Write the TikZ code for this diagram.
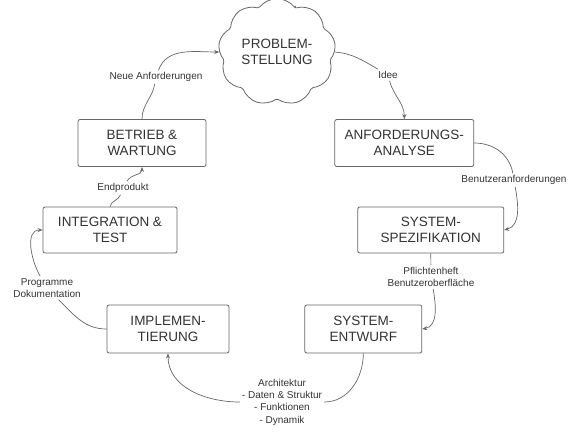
\documentclass[tikz,border=0pt]{standalone}
\usepackage{fontspec}
\setmainfont{Liberation Sans}
\usepackage{tikz}
\usetikzlibrary{arrows.meta,positioning,shapes.symbols}
\definecolor{linegray}{HTML}{666666}
\definecolor{textgray}{HTML}{333333}
\tikzset{
  stagebox/.style={
    draw=linegray,
    rounded corners=2pt,
    line width=0.8pt,
    fill=white,
    align=center,
    text=textgray,
    inner sep=2pt,
    font=\fontsize{13.5}{16.5}\selectfont
  },
  cloudbox/.style={stagebox, cloud, cloud puffs=9, cloud puff arc=115,
    aspect=1.15, minimum width=110pt, minimum height=94pt},
  flowlabel/.style={align=center, text=textgray, inner sep=2pt,
    font=\fontsize{10}{12.3}\selectfont},
  flow/.style={-{Stealth[length=5pt,width=4pt]}, draw=linegray, line width=0.7pt}
}

\begin{document}
\begin{tikzpicture}[x=1pt, y=1pt]
\useasboundingbox (0,0) rectangle (580,-440);

\node[cloudbox] (prob) at (277,-52) {PROBLEM-\\STELLUNG};
\node[stagebox, minimum width=128pt, minimum height=47pt] (betr) at (142,-143) {BETRIEB \&\\WARTUNG};
\node[stagebox, minimum width=139pt, minimum height=47pt, right=128pt of betr] (anf) {ANFORDERUNGS-\\ANALYSE};
\node[stagebox, minimum width=134pt, minimum height=46pt] (integ) at (110,-230) {INTEGRATION \&\\TEST};
\node[stagebox, minimum width=146pt, minimum height=46pt, right=180pt of integ] (spez) {SYSTEM-\\SPEZIFIKATION};
\node[stagebox, minimum width=122pt, minimum height=48pt] (impl) at (168,-329) {IMPLEMEN-\\TIERUNG};
\node[stagebox, minimum width=117pt, minimum height=48pt, right=75pt of impl] (entw) {SYSTEM-\\ENTWURF};

% labels on the arrows
\node[flowlabel] (idee) at (388,-75) {Idee};
\node[flowlabel] (benu) at (514,-180) {Benutzeranforderungen};
\node[flowlabel] (pfl) at (431,-277) {Pflichtenheft\\Benutzeroberfläche};
\node[flowlabel] (arch) at (282,-402) {Architektur\\- Daten \& Struktur\\- Funktionen\\- Dynamik};
\node[flowlabel] (prog) at (47,-288) {Programme\\Dokumentation};
\node[flowlabel] (endp) at (123,-188) {Endprodukt};
\node[flowlabel] (neue) at (156,-77) {Neue Anforderungen};

\draw[flow] (prob.east) to[out=-5,in=150] (idee) to[out=-75,in=90] (anf.north);
\draw[flow] (anf.east) to[out=0,in=100] (benu) to[out=-80,in=15] (spez.east);
\draw[flow] (spez.south) -- (pfl) to[out=-80,in=10] (entw.east);
\draw[flow] (entw.south) to[out=-90,in=0] (arch) to[out=180,in=-90] (impl.south);
\draw[flow] (impl.west) to[out=180,in=-45] (prog) to[out=120,in=180] (integ.west);
\draw[flow] (integ.north) to[out=80,in=-110] (endp) to[out=60,in=-90] (betr.south);
\draw[flow] (betr.north) to[out=90,in=-100] (neue) to[out=70,in=180] (prob.west);
\end{tikzpicture}
\end{document}
